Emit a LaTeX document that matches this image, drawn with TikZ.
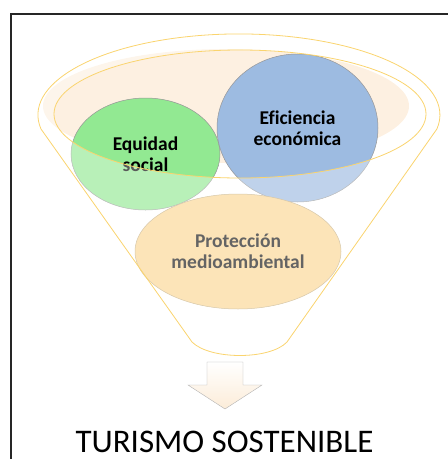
\documentclass[tikz,border=0pt]{standalone}
\usepackage{fontspec}
\setmainfont{Carlito}[Ligatures=NoCommon]
\usetikzlibrary{shapes.geometric}
\definecolor{rim}{RGB}{250,212,110}
\definecolor{rimfill}{RGB}{253,240,225}
\definecolor{socialgreen}{RGB}{146,233,146}
\definecolor{econblue}{RGB}{157,187,225}
\definecolor{envorange}{RGB}{252,228,184}
\definecolor{envedge}{RGB}{215,200,170}
\definecolor{envtext}{RGB}{100,100,100}
\definecolor{ringgray}{RGB}{150,150,150}
\definecolor{arrowfill}{RGB}{252,236,216}

\begin{document}
\begin{tikzpicture}[x=1pt,y=-1pt,
    blob/.style={ellipse,draw=ringgray,line width=0.5pt,inner sep=0pt,align=center,
      font=\bfseries\fontsize{19.5}{21}\selectfont},
    rimline/.style={draw=rim,line width=0.8pt}]
  \useasboundingbox (0,0) rectangle (448,459);
  \draw[line width=2.2pt,black!85] (449,14) -- (11,14) -- (11,460);

  % funnel mouth
  \fill[rimfill] (226,106) ellipse[x radius=183,y radius=57];

  \node[blob,fill=socialgreen,minimum width=149pt,minimum height=112pt] (social) at (145.5,154) {Equidad\\social};
  \node[blob,fill=econblue,minimum width=161pt,minimum height=148pt] (econ) at (297.5,128) {Eficiencia\\económica};

  % funnel body, slightly see-through
  \fill[white,opacity=0.35,even odd rule] (192,342) -- (41,129)
    arc[start angle=170,end angle=370,x radius=201,y radius=81] -- (287,342)
    .. controls (270,360) and (210,360) .. (192,342) -- cycle
    (240,114) ellipse[x radius=186,y radius=64];

  \node[blob,fill=envorange,draw=envedge,text=envtext,minimum width=206pt,minimum height=115pt] (env) at (238,251.5) {Protección\\medioambiental};

  \draw[rimline] (192,342) -- (41,129)
    arc[start angle=170,end angle=370,x radius=201,y radius=81] -- (287,342)
    .. controls (270,360) and (210,360) .. (192,342);
  \draw[rimline] (240,114) ellipse[x radius=186,y radius=64];

  % arrow
  \draw[draw=gray!60,top color=white,bottom color=arrowfill]
    (207,362) -- (243,362) -- (243,385) -- (262,385) -- (225,409) -- (188,385) -- (207,385) -- cycle;

  \node[font=\fontsize{33}{40}\selectfont,anchor=base,inner sep=0pt] (goal) at (224.5,452) {TURISMO SOSTENIBLE};
\end{tikzpicture}
\end{document}
